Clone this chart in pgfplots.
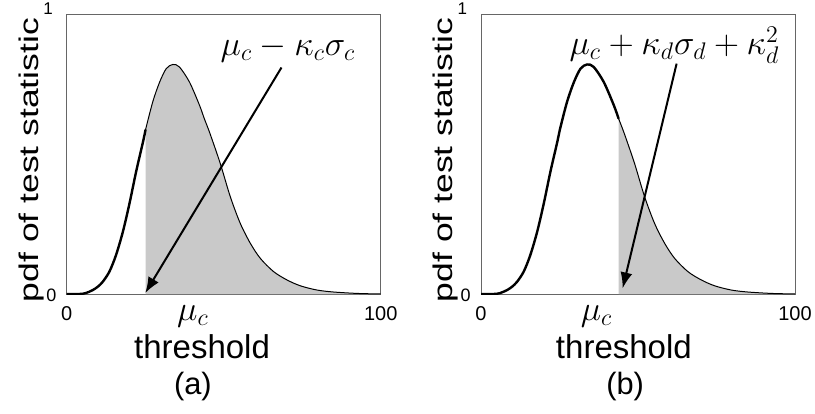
\documentclass[border=0pt]{standalone}
\usepackage[no-math]{fontspec}
\setmainfont{Liberation Sans}
\usepackage{graphicx}
\usepackage{pgfplots}
\usepackage{pgfplotstable}
\pgfplotsset{compat=1.18}
\usetikzlibrary{arrows.meta}

\pgfplotstableread{
x y
0 0
4 0
6 0.003
8.3 0.014
10 0.027
11.5 0.044
13.6 0.080
15.7 0.139
17.9 0.223
20.0 0.324
22.1 0.437
24.3 0.544
25.1 0.587
27.4 0.687
29.6 0.758
31.7 0.806
33.8 0.821
35.9 0.812
39.1 0.758
42.3 0.675
43.8 0.628
45.6 0.575
48.9 0.467
52.1 0.348
55.3 0.252
58.5 0.181
61.7 0.127
65.9 0.080
70.2 0.050
74.5 0.029
79.8 0.014
85.1 0.007
92.6 0.002
100 0
}\pdfcurve

\pgfplotsset{
  panel/.style={
    scale only axis, width=157pt, height=139.8pt,
    xmin=0, xmax=100, ymin=0, ymax=1,
    clip mode=individual,
    axis line style={black!60, line width=0.5pt},
    major tick length=0pt,
    xtick={0,100}, xticklabels={0,100},
    ytick={0}, yticklabels={0},
    xticklabel style={font=\fontsize{10}{10}\selectfont, anchor=base, yshift=-13pt, inner sep=0pt},
    yticklabel style={font=\fontsize{9}{9}\selectfont, anchor=east, inner sep=0pt, xshift=-5pt, yshift=-0.75pt},
    extra y ticks={1}, extra y tick labels={1},
    extra y tick style={yticklabel style={font=\fontsize{8.5}{8.5}\selectfont, anchor=south east, xshift=-1.7pt, yshift=0.4pt}},
    extra x tick style={xticklabel style={font=\fontsize{18}{18}\selectfont}},
    ylabel={\fontsize{13.5}{13.5}\selectfont\scalebox{1.314}[1]{pdf of test statistic}},
    ylabel style={at={(axis description cs:-0.0904,0.479)}, anchor=base, inner sep=0pt},
    xlabel={\fontsize{16.5}{16.5}\selectfont threshold},
  }
}

\begin{document}
\begin{tikzpicture}
\begin{axis}[panel, at={(0pt,0pt)}, anchor=south west,
  xlabel style={at={(axis description cs:0.431,-0.2303)}, anchor=base, inner sep=0pt},
  extra x ticks={40.2}, extra x tick labels={$\mu_c$}]
\addplot[draw=none, fill=black!21, smooth] table[restrict x to domain=25.05:100] {\pdfcurve} \closedcycle;
\addplot[black, line width=1.2pt, smooth, line cap=round] table[restrict x to domain=0:25.15] {\pdfcurve};
\addplot[black, line width=0.5pt, smooth] table[restrict x to domain=25.05:100] {\pdfcurve};
\draw[-{Latex[length=8pt,width=6pt]}, line width=1pt] (axis cs:68.4,0.81) -- (axis cs:25.0,0.003);
\node[anchor=base west, inner sep=0pt, font=\fontsize{18}{18}\selectfont] at (axis cs:48.9,0.854) {$\mu_c-\kappa_c\sigma_c$};
\node[anchor=base, inner sep=0pt, font=\fontsize{15.4}{15.4}\selectfont] at (axis description cs:0.402,-0.3577) {(a)};
\end{axis}

\begin{axis}[panel, at={(207.15pt,0pt)}, anchor=south west,
  xlabel style={at={(axis description cs:0.455,-0.2303)}, anchor=base, inner sep=0pt},
  extra x ticks={36.8}, extra x tick labels={$\mu_c$}]
\addplot[draw=none, fill=black!21, smooth] table[restrict x to domain=43.75:100] {\pdfcurve} \closedcycle;
\addplot[black, line width=1.2pt, smooth, line cap=round] table[restrict x to domain=0:43.85] {\pdfcurve};
\addplot[black, line width=0.5pt, smooth] table[restrict x to domain=43.75:100] {\pdfcurve};
\draw[-{Latex[length=8pt,width=6pt]}, line width=1pt] (axis cs:62.3,0.824) -- (axis cs:45.1,0.02);
\node[anchor=base west, inner sep=0pt, font=\fontsize{18}{18}\selectfont] at (axis cs:28.1,0.856) {$\mu_c+\kappa_d\sigma_d+\kappa_d^2$};
\node[anchor=base, inner sep=0pt, font=\fontsize{15.4}{15.4}\selectfont] at (axis description cs:0.459,-0.3577) {(b)};
\end{axis}

\pgfresetboundingbox
\useasboundingbox (-33.35pt,-59.5pt) rectangle (374.15pt,147pt);
\end{tikzpicture}
\end{document}
